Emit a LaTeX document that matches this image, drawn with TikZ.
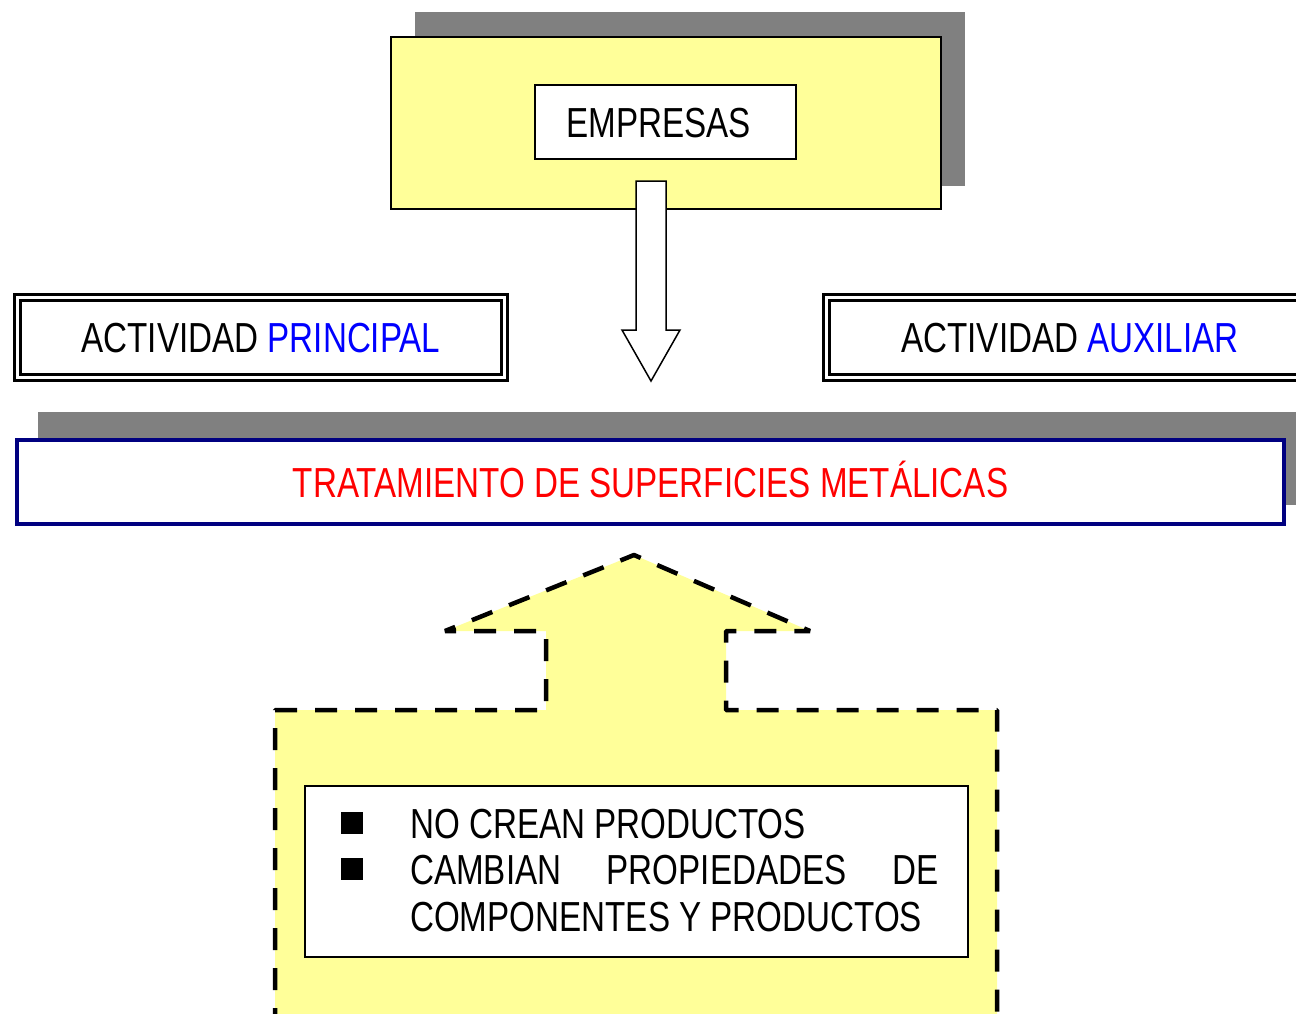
\documentclass[tikz,border=0pt]{standalone}
\usepackage{fontspec}
\setmainfont[FakeStretch=0.79]{Liberation Sans}
\definecolor{paleyellow}{HTML}{FFFF99}
\definecolor{shadowgray}{HTML}{808080}
\definecolor{navyline}{HTML}{000080}
\definecolor{pureblue}{HTML}{0000FF}
\definecolor{purered}{HTML}{FF0000}
\tikzset{
  bigtext/.style={font=\fontsize{42}{46.5}\selectfont},
  boxtext/.style={bigtext, text height=30pt, text depth=0pt},
  framebox/.style={draw=black, line width=3pt, double=white, double distance=3pt, fill=white,
                   minimum width=487pt, minimum height=80pt, inner sep=0pt, boxtext},
  bulletsq/.style={fill=black, draw=none, minimum size=22pt, inner sep=0pt},
}
\begin{document}
\begin{tikzpicture}[x=1pt,y=-1pt]
\clip (0,0) rectangle (1296,1013);
\fill[white] (0,0) rectangle (1296,1013);

% top block
\fill[shadowgray] (415,12) rectangle (965,186);
\node[draw=black, line width=2pt, fill=paleyellow, minimum width=550pt, minimum height=172pt, inner sep=0pt] (yellowbox) at (666,123) {};
\node[draw=black, line width=1.5pt, fill=white, minimum width=261pt, minimum height=74pt, inner sep=0pt, boxtext] (empresas) at (665.5,122) {\hspace*{-14pt}EMPRESAS};

% down block arrow
\coordinate (downtip) at (651,381);
\draw[line width=1.5pt, fill=white, line join=miter]
  (636,181) -- (666,181) -- (666,330) -- (680,330) -- (downtip) -- (622,330) -- (636,330) -- cycle;

% activity boxes
\node[framebox] (principal) at (261,337.5) {ACTIVIDAD \textcolor{pureblue}{PRINCIPAL}};
\node[framebox] (auxiliar) at (1070,337.5) {ACTIVIDAD \textcolor{pureblue}{AUXILIAR}};

% main box
\fill[shadowgray] (38,412) rectangle (1310,505);
\node[draw=navyline, line width=4pt, fill=white, minimum width=1267pt, minimum height=84pt, inner sep=0pt, boxtext, text=purered] (tratamiento) at (650.5,482) {TRATAMIENTO DE SUPERFICIES METÁLICAS};

% up dashed block arrow
\coordinate (uptip) at (634,555);
\draw[line width=4.5pt, dash pattern=on 22pt off 18pt, fill=paleyellow, line join=bevel]
  (275,1030) -- (275,710) -- (546,710) -- (546,631) -- (445,631) -- (uptip) -- (810,631) -- (726,631) -- (726,710) -- (997,710) -- (997,1030);

% inner white box
\node[draw=black, line width=1.5pt, fill=white, minimum width=663pt, minimum height=171pt, inner sep=0pt] (notes) at (636.5,871.5) {};
\node[bulletsq] (b1) at (352,823) {};
\node[bulletsq] (b2) at (352,869) {};
\node[bigtext, anchor=base west, inner sep=0pt] (l1) at (410,838) {NO CREAN PRODUCTOS};
\node[bigtext, anchor=base west, inner sep=0pt] (l2) at (410,884.5) {\hbox to 528pt{CAMBIAN\hfill PROPIEDADES\hfill DE}};
\node[bigtext, anchor=base west, inner sep=0pt] (l3) at (410,931) {COMPONENTES Y PRODUCTOS};
\end{tikzpicture}
\end{document}
